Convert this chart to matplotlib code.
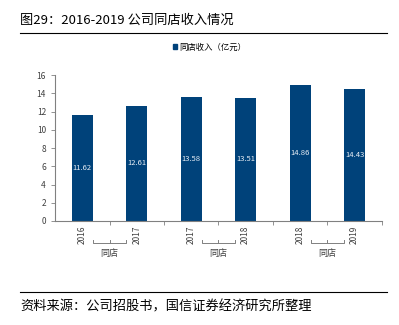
import matplotlib.pyplot as plt
from matplotlib.lines import Line2D
from matplotlib.patches import Patch
import matplotlib.transforms as mtransforms

plt.rcParams['font.family'] = ['Noto Sans CJK SC', 'DejaVu Sans']

years = ['2016', '2017', '2017', '2018', '2018', '2019']
revenue = [11.62, 12.61, 13.58, 13.51, 14.86, 14.43]
group_label = '同店'
legend_label = '同店收入（亿元）'
title = '图29：2016-2019 公司同店收入情况'
source = '资料来源：公司招股书，国信证券经济研究所整理'

bar_color = '#00427A'
gray = '#808080'

fig = plt.figure(figsize=(3.99, 3.25), dpi=100)
ax = fig.add_axes([0.138, 0.32, 0.819, 0.449])

x = list(range(len(years)))
ax.bar(x, revenue, width=0.39, color=bar_color)
for xi, v in zip(x, revenue):
    ax.text(xi, v / 2, f'{v:.2f}', color='#e8eef5', ha='center', va='center', fontsize=5.5)

ax.set_xlim(-0.5, len(years) - 0.5)
ax.set_ylim(0, 16)
ax.set_yticks(range(0, 17, 2))
ax.tick_params(axis='y', labelsize=6, colors='#404040', length=3, color=gray, width=0.6)

# boundary ticks (major), year labels at bar centres (minor)
ax.set_xticks([i + 0.5 for i in x])
ax.set_xticklabels([])
ax.tick_params(axis='x', which='major', length=3, color=gray, width=0.6)
ax.set_xticks(x, minor=True)
ax.set_xticklabels(years, minor=True, rotation=90, fontsize=6, color='#404040')
ax.tick_params(axis='x', which='minor', length=0, pad=3)

for s in ['top', 'right']:
    ax.spines[s].set_visible(False)
for s in ['left', 'bottom']:
    ax.spines[s].set_color(gray)
    ax.spines[s].set_linewidth(0.8)

# brackets under each pair
trans = mtransforms.blended_transform_factory(ax.transData, ax.transAxes)
yb, h = -0.15, 0.02
for i in range(0, len(years), 2):
    l, r, c = i + 0.2, i + 0.8, i + 0.5
    ax.add_line(Line2D([l, l, r, r], [yb + h, yb, yb, yb + h], transform=trans,
                       color=gray, lw=0.7, clip_on=False))
    ax.add_line(Line2D([c, c], [yb, yb + h], transform=trans,
                       color=gray, lw=0.7, clip_on=False))
    ax.text(c, yb - 0.04, group_label, transform=trans, ha='center', va='top',
            fontsize=6.5, color='#404040')

fig.legend(handles=[Patch(color=bar_color, label=legend_label)],
           loc='center', bbox_to_anchor=(0.525, 0.855), frameon=False,
           fontsize=6, handlelength=0.5, handleheight=0.5, handletextpad=0.3)

fig.text(0.05, 0.938, title, fontsize=9.5, va='center', ha='left')
fig.add_artist(Line2D([0.05, 0.97], [0.898, 0.898], transform=fig.transFigure,
                      color='black', lw=0.8))
fig.add_artist(Line2D([0.05, 0.97], [0.102, 0.102], transform=fig.transFigure,
                      color='black', lw=0.8))
fig.text(0.05, 0.055, source, fontsize=9.5, va='center', ha='left')

fig.savefig('out.png', dpi=100)
